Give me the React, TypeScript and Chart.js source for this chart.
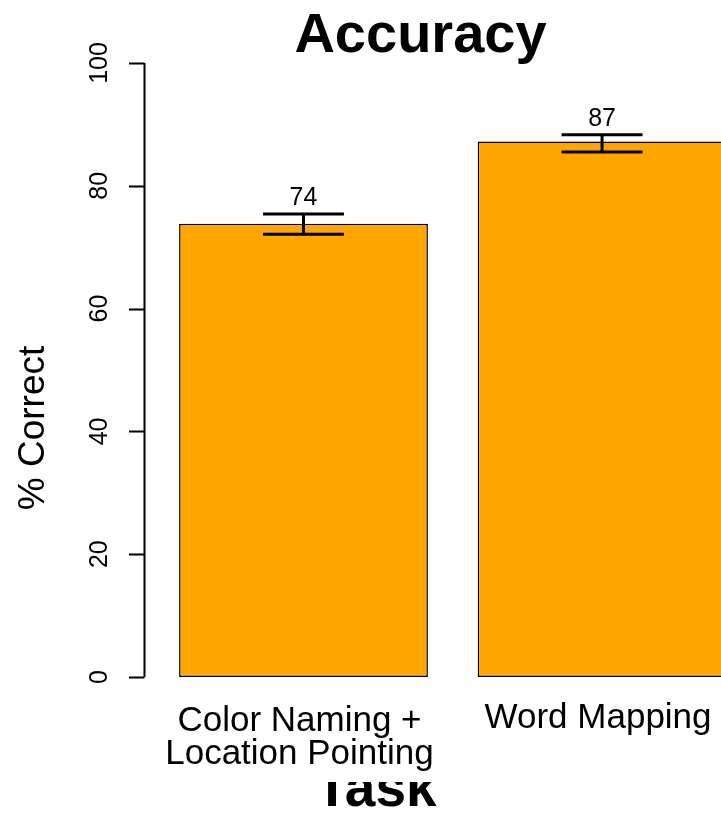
import React, { useEffect, useRef } from "react";
import { Chart, registerables } from "chart.js";

Chart.register(...registerables);

// Mean accuracy per task, with the lower / upper ends of the error bars
const categories: string[][] = [["Color Naming +", "Location Pointing"], ["Word Mapping"]];
const accuracy: number[] = [73.8, 87.2];
const errLow: number[] = [72.1, 85.5];
const errHigh: number[] = [75.4, 88.3];
const yTicks: number[] = [0, 20, 40, 60, 80, 100];

const TITLE = "Accuracy";
const X_TITLE = "Task";
const Y_TITLE = "% Correct";

// barplot geometry: unit-wide bars separated by a 0.2 gap
const BAR_WIDTH = 1;
const BAR_SPACE = 0.2;
const barCenter = (i: number) => BAR_SPACE * (i + 1) + BAR_WIDTH * (i + 0.5);

const FONT = '"Liberation Sans", Arial, Helvetica, sans-serif';
const FILL = "#FFA500";

const decorations = {
  id: "decorations",
  afterDatasetsDraw(chart: any) {
    const { ctx } = chart;
    const y = chart.scales.y;
    const meta = chart.getDatasetMeta(0);
    ctx.save();
    ctx.strokeStyle = "#000";
    ctx.fillStyle = "#000";
    ctx.lineCap = "butt";

    // error bars and value labels
    meta.data.forEach((bar: any, i: number) => {
      const cx = bar.x;
      const half = bar.width * 0.1625;
      const yl = y.getPixelForValue(errLow[i]);
      const yh = y.getPixelForValue(errHigh[i]);
      ctx.lineWidth = 3;
      ctx.beginPath();
      ctx.moveTo(cx, yl);
      ctx.lineTo(cx, yh);
      ctx.moveTo(cx - half, yl);
      ctx.lineTo(cx + half, yl);
      ctx.moveTo(cx - half, yh);
      ctx.lineTo(cx + half, yh);
      ctx.stroke();

      ctx.font = `25px ${FONT}`;
      ctx.textAlign = "center";
      ctx.textBaseline = "alphabetic";
      ctx.fillText(String(Math.round(accuracy[i])), cx, yh - 9);
    });

    // y axis: line, outward ticks, rotated labels
    const axisX = 144.5;
    ctx.lineWidth = 2;
    ctx.beginPath();
    ctx.moveTo(axisX, y.getPixelForValue(yTicks[0]));
    ctx.lineTo(axisX, y.getPixelForValue(yTicks[yTicks.length - 1]));
    yTicks.forEach((t) => {
      const py = Math.round(y.getPixelForValue(t)) + 0.5;
      ctx.moveTo(axisX, py);
      ctx.lineTo(129, py);
    });
    ctx.stroke();

    ctx.font = `25px ${FONT}`;
    ctx.textAlign = "center";
    ctx.textBaseline = "alphabetic";
    yTicks.forEach((t) => {
      ctx.save();
      ctx.translate(107, y.getPixelForValue(t));
      ctx.rotate(-Math.PI / 2);
      ctx.fillText(String(t), 0, 0);
      ctx.restore();
    });

    // category labels under the bars
    ctx.font = `35px ${FONT}`;
    meta.data.forEach((bar: any, i: number) => {
      const lines = categories[i];
      const first = lines.length > 1 ? 731 : 728;
      lines.forEach((line, k) => {
        ctx.fillText(line, bar.x - 4, first + k * 33);
      });
    });

    // y axis title
    ctx.font = `37px ${FONT}`;
    ctx.save();
    ctx.translate(44, 428);
    ctx.rotate(-Math.PI / 2);
    ctx.fillText(Y_TITLE, 0, 0);
    ctx.restore();

    // main title
    ctx.font = `bold 56px ${FONT}`;
    ctx.fillText(TITLE, 420.5, 52);

    // x axis title, lower part only
    ctx.save();
    ctx.beginPath();
    ctx.rect(0, 782, chart.width, chart.height - 782);
    ctx.clip();
    ctx.font = `bold 55px ${FONT}`;
    ctx.fillText(X_TITLE, 376, 806);
    ctx.restore();

    ctx.restore();
  },
};

export default function App() {
  const canvasRef = useRef<HTMLCanvasElement | null>(null);

  useEffect(() => {
    const canvas = canvasRef.current;
    if (!canvas) return;
    const chart = new Chart(canvas, {
      type: "bar",
      data: {
        datasets: [
          {
            data: accuracy.map((v, i) => ({ x: barCenter(i), y: v })),
            backgroundColor: FILL,
            borderColor: "#000",
            borderWidth: 1.5,
            borderSkipped: false,
            barPercentage: BAR_WIDTH / (BAR_WIDTH + BAR_SPACE),
            categoryPercentage: 1,
          },
        ],
      },
      options: {
        responsive: false,
        animation: false,
        layout: { padding: { left: 145, top: 63, right: 0, bottom: 140 } },
        plugins: {
          legend: { display: false },
          title: { display: false },
          tooltip: { enabled: false },
        },
        scales: {
          x: {
            type: "linear",
            display: false,
            offset: false,
            min: 0.063,
            max: 2.378,
            // one tick per bar, so bar widths follow the bar spacing
            afterBuildTicks: (scale: any) => {
              scale.ticks = accuracy.map((_, i) => ({ value: barCenter(i) }));
            },
          },
          y: { type: "linear", display: false, min: 0, max: 100 },
        },
      },
      plugins: [decorations],
    });
    return () => chart.destroy();
  }, []);

  return (
    <div style={{ position: "absolute", left: 0, top: 0, width: 721, height: 817, background: "#fff", overflow: "hidden" }}>
      <canvas ref={canvasRef} width={721} height={817} style={{ display: "block", width: 721, height: 817 }} />
    </div>
  );
}
